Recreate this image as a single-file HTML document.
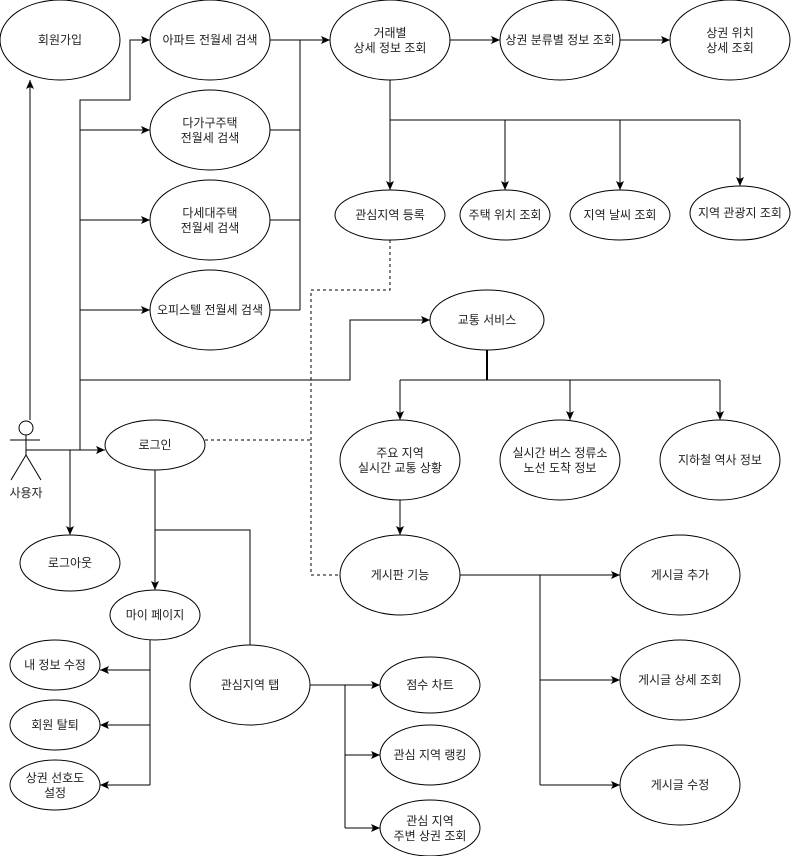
<!DOCTYPE html>
<html><head><meta charset="utf-8"><style>
html,body{margin:0;padding:0;background:#fff;}
svg{display:block;}
text{font-family:"Liberation Sans","Noto Sans CJK KR",sans-serif;font-size:12px;fill:#222;text-anchor:middle;}
</style></head><body>
<svg width="791" height="856" viewBox="0 0 791 856" xmlns="http://www.w3.org/2000/svg">
<defs><marker id="a" markerWidth="10" markerHeight="10" refX="9" refY="5" orient="auto" markerUnits="userSpaceOnUse"><path d="M0,1 L9,5 L0,9 L2,5 Z" fill="#000"/></marker></defs>
<g fill="#fff" stroke="#000" stroke-width="1">
<ellipse cx="60" cy="40" rx="60" ry="40"/>
<ellipse cx="210" cy="40" rx="60" ry="40"/>
<ellipse cx="210" cy="130" rx="60" ry="40"/>
<ellipse cx="210" cy="220" rx="60" ry="40"/>
<ellipse cx="210" cy="310" rx="60" ry="40"/>
<ellipse cx="390" cy="40" rx="60" ry="40"/>
<ellipse cx="560" cy="40" rx="60" ry="40"/>
<ellipse cx="730" cy="40" rx="60" ry="40"/>
<ellipse cx="390" cy="215" rx="55" ry="25"/>
<ellipse cx="505" cy="215" rx="45" ry="25"/>
<ellipse cx="620" cy="215" rx="50" ry="25"/>
<ellipse cx="740" cy="213" rx="50" ry="27"/>
<ellipse cx="487" cy="320" rx="57" ry="30"/>
<ellipse cx="400" cy="460" rx="60" ry="40"/>
<ellipse cx="560" cy="460" rx="60" ry="40"/>
<ellipse cx="720" cy="460" rx="60" ry="40"/>
<ellipse cx="400" cy="575" rx="60" ry="40"/>
<ellipse cx="680" cy="575" rx="60" ry="40"/>
<ellipse cx="680" cy="680" rx="60" ry="40"/>
<ellipse cx="680" cy="785" rx="60" ry="40"/>
<ellipse cx="155" cy="445" rx="50" ry="25"/>
<ellipse cx="70" cy="563" rx="50" ry="28"/>
<ellipse cx="155" cy="615" rx="45" ry="25"/>
<ellipse cx="55" cy="665" rx="45" ry="25"/>
<ellipse cx="55" cy="725" rx="45" ry="25"/>
<ellipse cx="55" cy="785" rx="45" ry="25"/>
<ellipse cx="250" cy="685" rx="60" ry="40"/>
<ellipse cx="430" cy="685" rx="50" ry="28"/>
<ellipse cx="430" cy="755" rx="50" ry="30"/>
<ellipse cx="430" cy="828" rx="50" ry="28"/>
<circle cx="26" cy="428" r="7"/>
</g>
<g fill="none" stroke="#000" stroke-width="1">
<path d="M26,435 V455 M10,440 H40 M26,455 L11,480 M26,455 L41,480"/>
<path d="M30,420 V80" marker-end="url(#a)"/>
<path d="M80,450 V100 H130 V40 H150" marker-end="url(#a)"/>
<path d="M80,130 H150" marker-end="url(#a)"/>
<path d="M80,220 H150" marker-end="url(#a)"/>
<path d="M80,310 H150" marker-end="url(#a)"/>
<path d="M80,380 H350 V320 H430" marker-end="url(#a)"/>
<path d="M26,450 H105" marker-end="url(#a)"/>
<path d="M70,450 V535" marker-end="url(#a)"/>
<path d="M270,40 H330" marker-end="url(#a)"/>
<path d="M300,40 V310 M270,130 H300 M270,220 H300 M270,310 H300"/>
<path d="M450,40 H500" marker-end="url(#a)"/>
<path d="M620,40 H670" marker-end="url(#a)"/>
<path d="M390,80 V190" marker-end="url(#a)"/>
<path d="M390,120 H740"/>
<path d="M505,120 V190" marker-end="url(#a)"/>
<path d="M620,120 V190" marker-end="url(#a)"/>
<path d="M740,120 V186" marker-end="url(#a)"/>
<path d="M487,350 V380" stroke-width="2"/>
<path d="M400,380 H720"/>
<path d="M400,380 V420" marker-end="url(#a)"/>
<path d="M570,380 V420" marker-end="url(#a)"/>
<path d="M720,380 V420" marker-end="url(#a)"/>
<path d="M400,500 V535" marker-end="url(#a)"/>
<path d="M460,575 H620" marker-end="url(#a)"/>
<path d="M540,575 V785 M540,680 H620" marker-end="url(#a)"/>
<path d="M540,785 H620" marker-end="url(#a)"/>
<path d="M155,470 V590" marker-end="url(#a)"/>
<path d="M155,530 H250 V645"/>
<path d="M150,640 V785 M150,670 H100" marker-end="url(#a)"/>
<path d="M150,725 H100" marker-end="url(#a)"/>
<path d="M150,785 H100" marker-end="url(#a)"/>
<path d="M310,685 H380" marker-end="url(#a)"/>
<path d="M345,685 V828 M345,755 H380" marker-end="url(#a)"/>
<path d="M345,828 H380" marker-end="url(#a)"/>
<path d="M390,240 V290 H311 V575 H340 M205,440 H311" stroke-dasharray="3,3"/>
</g>
<text x="60" y="44">회원가입</text>
<text x="210" y="44">아파트 전월세 검색</text>
<text x="210" y="127">다가구주택</text><text x="210" y="142">전월세 검색</text>
<text x="210" y="217">다세대주택</text><text x="210" y="232">전월세 검색</text>
<text x="210" y="314">오피스텔 전월세 검색</text>
<text x="390" y="37">거래별</text><text x="390" y="52">상세 정보 조회</text>
<text x="560" y="44">상권 분류별 정보 조회</text>
<text x="730" y="37">상권 위치</text><text x="730" y="52">상세 조회</text>
<text x="390" y="219">관심지역 등록</text>
<text x="505" y="219">주택 위치 조회</text>
<text x="620" y="219">지역 날씨 조회</text>
<text x="740" y="217">지역 관광지 조회</text>
<text x="487" y="324">교통 서비스</text>
<text x="400" y="457">주요 지역</text><text x="400" y="472">실시간 교통 상황</text>
<text x="560" y="457">실시간 버스 정류소</text><text x="560" y="472">노선 도착 정보</text>
<text x="720" y="464">지하철 역사 정보</text>
<text x="400" y="579">게시판 기능</text>
<text x="680" y="579">게시글 추가</text>
<text x="680" y="684">게시글 상세 조회</text>
<text x="680" y="789">게시글 수정</text>
<text x="155" y="449">로그인</text>
<text x="70" y="567">로그아웃</text>
<text x="155" y="619">마이 페이지</text>
<text x="55" y="669">내 정보 수정</text>
<text x="55" y="729">회원 탈퇴</text>
<text x="55" y="782">상권 선호도</text><text x="55" y="797">설정</text>
<text x="250" y="689">관심지역 탭</text>
<text x="430" y="689">점수 차트</text>
<text x="430" y="759">관심 지역 랭킹</text>
<text x="430" y="825">관심 지역</text><text x="430" y="840">주변 상권 조회</text>
<text x="26" y="497">사용자</text>
</svg>
</body></html>
